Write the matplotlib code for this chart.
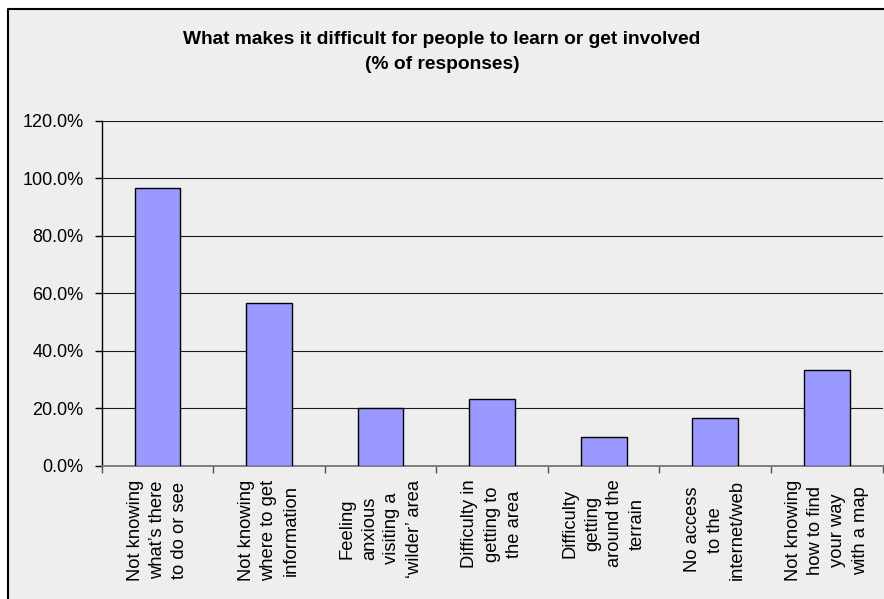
import numpy as np
import matplotlib
matplotlib.use("Agg")
import matplotlib.pyplot as plt
from matplotlib.patches import Rectangle
from matplotlib.lines import Line2D

plt.rcParams['font.family'] = ['Liberation Sans', 'DejaVu Sans']

categories = [
    "Not knowing\nwhat\u2019s there\nto do or see",
    "Not knowing\nwhere to get\ninformation",
    "Feeling\nanxious\nvisiting a\n\u2018wilder\u2019 area",
    "Difficulty in\ngetting to\nthe area",
    "Difficulty\ngetting\naround the\nterrain",
    "No access\nto the\ninternet/web",
    "Not knowing\nhow to find\nyour way\nwith a map",
]
responses = [96.7, 56.7, 20.0, 23.3, 10.0, 16.7, 33.3]
yticks = [0, 20, 40, 60, 80, 100, 120]

W, H = 884, 599
fig = plt.figure(figsize=(W / 100 + 1e-4, H / 100 + 1e-4), dpi=100, facecolor="white")

# grey chart box; only its left and top edges fall inside the image
x0, y0 = 8 / W, 1 - 9 / H
fig.patches.append(Rectangle((x0, -0.1), 1.2, y0 + 0.1, transform=fig.transFigure,
                             facecolor="#eeeeee", edgecolor="none", zorder=-2))
fig.lines.append(Line2D([x0, x0, 1.2], [-0.1, y0, y0], transform=fig.transFigure,
                        color="black", linewidth=1.5, zorder=-1))

ax = fig.add_axes([101.7 / W, 1 - 465.7 / H, (882.5 - 101.7) / W, (465.7 - 120.7) / H])
ax.set_zorder(1)
ax.set_facecolor("#eeeeee")

x = np.arange(len(categories))
ax.bar(x, responses, width=0.41, color="#9999ff", edgecolor="black", linewidth=1.0, zorder=3)

ax.set_ylim(0, 120)
ax.set_xlim(-0.5, len(categories) - 0.5)
ax.set_yticks(yticks)
ax.set_yticklabels([f"{v:.1f}%" for v in yticks], fontsize=13)
ax.yaxis.grid(True, color="#1a1a1a", linewidth=0.8, zorder=1)
ax.set_axisbelow(True)

ax.set_xticks(x)
ax.set_xticklabels(categories, rotation=90, fontsize=13.2, ha="center", va="top",
                   multialignment="center", linespacing=1.42)
ax.tick_params(axis="x", length=0, pad=10)
ax.set_xticks(np.arange(len(categories) + 1) - 0.5, minor=True)
ax.tick_params(axis="x", which="minor", length=5, width=1, color="#555555", direction="out")
ax.tick_params(axis="y", length=5, width=1, direction="out", pad=8)

for side in ("top", "right"):
    ax.spines[side].set_visible(False)
ax.spines["left"].set_color("black")
ax.spines["left"].set_linewidth(1.0)
ax.spines["bottom"].set_color("#777777")
ax.spines["bottom"].set_linewidth(1.3)

fig.text(0.5, 1 - 44 / H, "What makes it difficult for people to learn or get involved",
         ha="center", va="baseline", fontsize=13.8, fontweight="bold")
fig.text(0.5, 1 - 69 / H, "(% of responses)",
         ha="center", va="baseline", fontsize=13.8, fontweight="bold")

fig.savefig("out.png", dpi=100, facecolor="white")
